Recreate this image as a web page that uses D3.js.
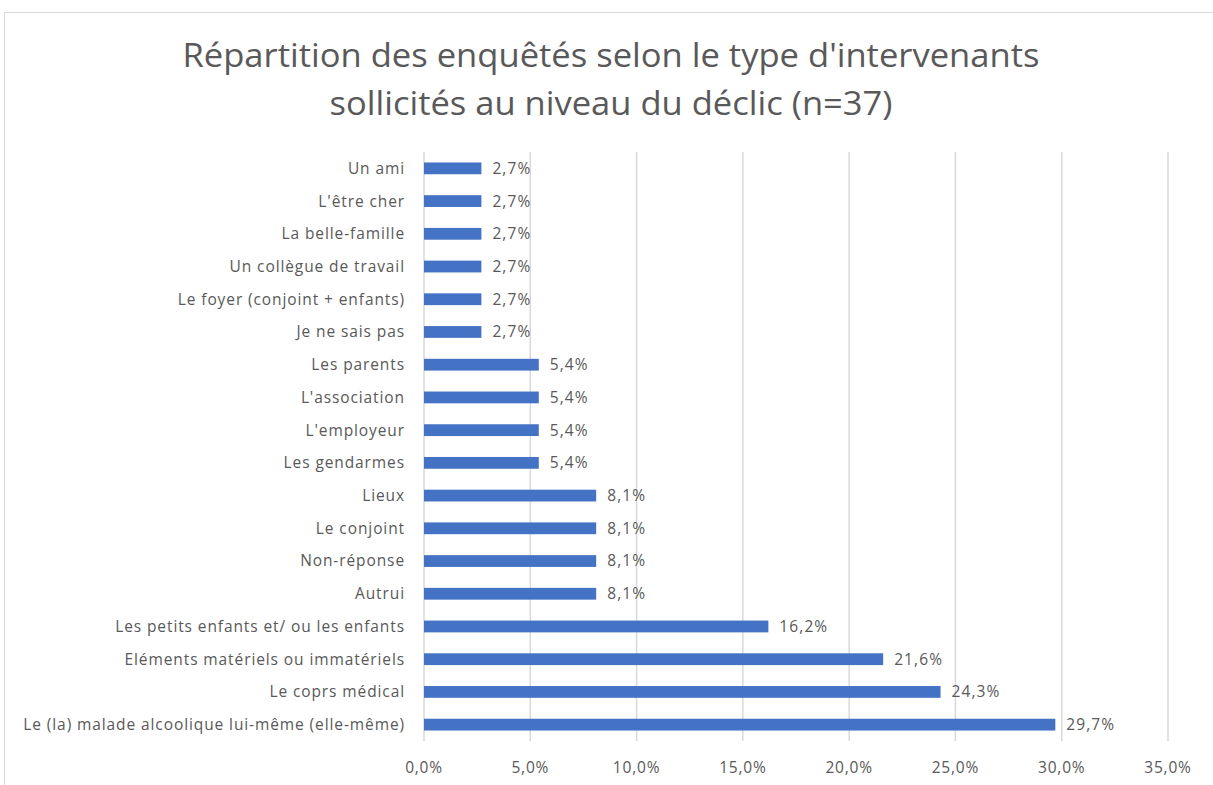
<!DOCTYPE html>
<html><head><meta charset="utf-8">
<script src="https://cdn.jsdelivr.net/npm/d3@7"></script>
<style>body{margin:0;background:#fff;} text{font-family:"Open Sans",sans-serif;}</style>
</head><body>
<svg id="c" width="1213" height="785"></svg>
<script>
const categories = ["Un ami","L'être cher","La belle-famille","Un collègue de travail","Le foyer (conjoint + enfants)","Je ne sais pas","Les parents","L'association","L'employeur","Les gendarmes","Lieux","Le conjoint","Non-réponse","Autrui","Les petits enfants et/ ou les enfants","Eléments matériels ou immatériels","Le coprs médical","Le (la) malade alcoolique lui-même (elle-même)"];
const values = [2.7,2.7,2.7,2.7,2.7,2.7,5.4,5.4,5.4,5.4,8.1,8.1,8.1,8.1,16.2,21.6,24.3,29.7];
const ticks = [0,5,10,15,20,25,30,35];
const titleLines = ["Répartition des enquêtés selon le type d'intervenants","sollicités au niveau du déclic (n=37)"];
const titleWidths = [857, 563];

const svg = d3.select("#c");
const grey = "#595959";
svg.append("rect").attr("x",4.5).attr("y",12.5).attr("width",1220).attr("height",800).attr("fill","#fff").attr("stroke","#d9d9d9").attr("stroke-width",1);

const x = d3.scaleLinear().domain([0,35]).range([424,1168]);
const y = d3.scaleBand().domain(categories).range([152,741]).paddingInner(0.64).paddingOuter(0.32);

svg.append("g").selectAll("line").data(ticks).join("line")
  .attr("x1",d=>x(d)).attr("x2",d=>x(d)).attr("y1",152).attr("y2",741)
  .attr("stroke","#d9d9d9").attr("stroke-width",1.5);

svg.append("g").selectAll("rect").data(values).join("rect")
  .attr("x",x(0)).attr("y",(d,i)=>y(categories[i])).attr("width",d=>x(d)-x(0)).attr("height",y.bandwidth())
  .attr("fill","#4472c4");

svg.append("g").selectAll("text").data(values).join("text")
  .attr("x",d=>x(d)+11).attr("y",(d,i)=>y(categories[i])+y.bandwidth()/2).attr("dy","0.35em")
  .attr("font-size",15.5).attr("letter-spacing",1.1).attr("fill",grey).text(d=>d.toFixed(1).replace(".",",")+"%");

svg.append("g").selectAll("text").data(categories).join("text")
  .attr("x",405).attr("y",d=>y(d)+y.bandwidth()/2).attr("dy","0.35em").attr("text-anchor","end")
  .attr("font-size",15.5).attr("letter-spacing",0.9).attr("fill",grey).text(d=>d);

svg.append("g").selectAll("text").data(ticks).join("text")
  .attr("x",d=>x(d)).attr("y",768).attr("dy","0.35em").attr("text-anchor","middle")
  .attr("font-size",15.5).attr("letter-spacing",0.8).attr("fill",grey).text(d=>d.toFixed(1).replace(".",",")+"%");

svg.append("g").selectAll("text").data(titleLines).join("text")
  .attr("x",611).attr("y",(d,i)=>55+i*48).attr("dy","0.35em").attr("text-anchor","middle")
  .attr("font-size",33).attr("fill",grey)
  .attr("textLength",(d,i)=>titleWidths[i]).attr("lengthAdjust","spacingAndGlyphs").text(d=>d);
</script>
</body></html>
